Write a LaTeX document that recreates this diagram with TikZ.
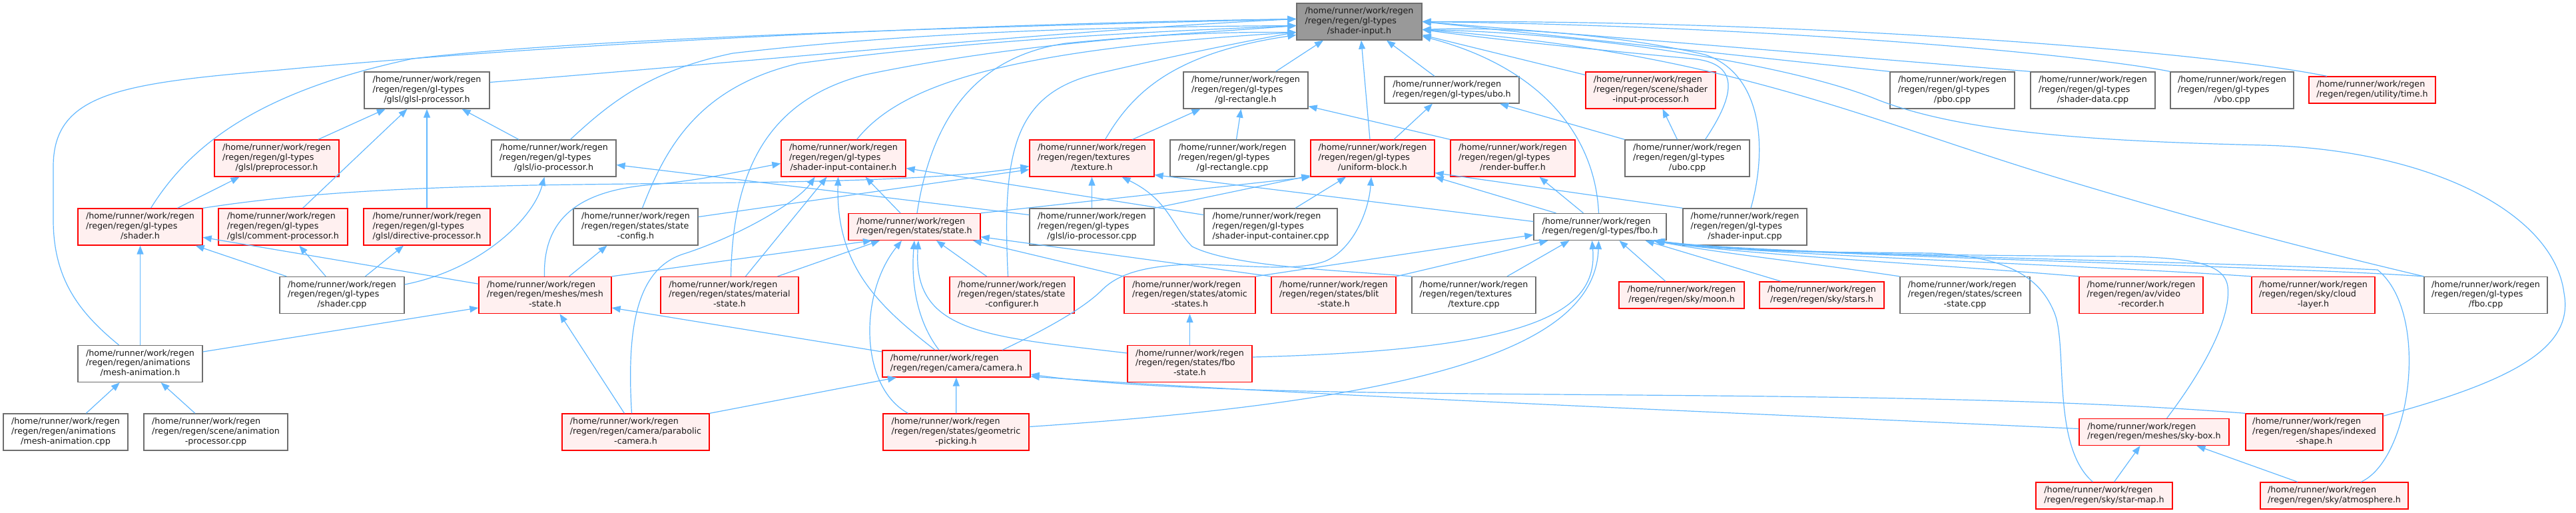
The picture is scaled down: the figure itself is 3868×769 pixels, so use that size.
\documentclass[tikz,border=0pt]{standalone}
\usepackage{fontspec}
\newfontfamily\dxfont{DejaVu Sans}
\usetikzlibrary{arrows.meta}
\definecolor{dxblue}{RGB}{99,184,255}
\definecolor{dxred}{RGB}{255,0,0}
\definecolor{dxpink}{RGB}{255,240,240}
\definecolor{dxgray}{RGB}{110,110,110}
\definecolor{dxroot}{RGB}{153,153,153}
\definecolor{dxtext}{RGB}{26,26,26}
\newcommand{\dxhome}{/home/runner/work/regen}
\newcommand{\dxthree}[3]{\begin{tabular}{@{}l@{}}#1\\#2\\\multicolumn{1}{@{}c@{}}{#3}\end{tabular}}
\newcommand{\dxtwo}[2]{\begin{tabular}{@{}l@{}}#1\\\multicolumn{1}{@{}c@{}}{#2}\end{tabular}}
\tikzset{
  dxbase/.style={draw, rectangle, line width=1.3pt, inner sep=0pt, text=dxtext,
                 font=\dxfont\fontsize{12.7}{14.7}\selectfont},
  filenode/.style={dxbase, fill=white, draw=dxgray},
  truncnode/.style={dxbase, fill=dxpink, draw=dxred},
  rootnode/.style={dxbase, fill=dxroot, draw=dxgray},
  threerow/.style={minimum height=55pt},
  tworow/.style={minimum height=40pt},
  incl/.style={draw=dxblue, line width=1.2pt, -{Triangle[length=13pt,width=10pt]}},
}

\begin{document}
\begin{tikzpicture}[x=1pt,y=-1pt]
\useasboundingbox (0,0) rectangle (3868,769);

% ================= row 0: the header itself =================
\node[rootnode, threerow, minimum width=188pt] (root) at (2041,32.5)
  {\dxthree{\dxhome}{/regen/regen/gl-types}{/shader-input.h}};

% ================= row 1 =================
\node[filenode, threerow, minimum width=188pt] (glslproc) at (641,135.5)
  {\dxthree{\dxhome}{/regen/regen/gl-types}{/glsl/glsl-processor.h}};
\node[filenode, threerow, minimum width=187pt] (glrecth) at (1870.5,135.5)
  {\dxthree{\dxhome}{/regen/regen/gl-types}{/gl-rectangle.h}};
\node[filenode, tworow, minimum width=202pt] (uboh) at (2180,135)
  {\dxtwo{\dxhome}{/regen/regen/gl-types/ubo.h}};
\node[truncnode, threerow, minimum width=195pt] (sipproc) at (2478.5,135.5)
  {\dxthree{\dxhome}{/regen/regen/scene/shader}{-input-processor.h}};
\node[filenode, threerow, minimum width=187pt] (pbocpp) at (2931.5,135.5)
  {\dxthree{\dxhome}{/regen/regen/gl-types}{/pbo.cpp}};
\node[filenode, threerow, minimum width=187pt] (shdatacpp) at (3142.5,135.5)
  {\dxthree{\dxhome}{/regen/regen/gl-types}{/shader-data.cpp}};
\node[filenode, threerow, minimum width=185pt] (vbocpp) at (3351.5,135.5)
  {\dxthree{\dxhome}{/regen/regen/gl-types}{/vbo.cpp}};
\node[truncnode, tworow, minimum width=190pt] (timeh) at (3562,135)
  {\dxtwo{\dxhome}{/regen/regen/utility/time.h}};

% ================= row 2 =================
\node[truncnode, threerow, minimum width=187pt] (preproc) at (415.5,237.5)
  {\dxthree{\dxhome}{/regen/regen/gl-types}{/glsl/preprocessor.h}};
\node[filenode, threerow, minimum width=187pt] (ioproch) at (831.5,237.5)
  {\dxthree{\dxhome}{/regen/regen/gl-types}{/glsl/io-processor.h}};
\node[truncnode, threerow, minimum width=187pt] (sicont) at (1266.5,237.5)
  {\dxthree{\dxhome}{/regen/regen/gl-types}{/shader-input-container.h}};
\node[truncnode, threerow, minimum width=187pt] (textureh) at (1639.5,237.5)
  {\dxthree{\dxhome}{/regen/regen/textures}{/texture.h}};
\node[filenode, threerow, minimum width=187pt] (glrectcpp) at (1850.5,237.5)
  {\dxthree{\dxhome}{/regen/regen/gl-types}{/gl-rectangle.cpp}};
\node[truncnode, threerow, minimum width=186pt] (ublock) at (2061,237.5)
  {\dxthree{\dxhome}{/regen/regen/gl-types}{/uniform-block.h}};
\node[truncnode, threerow, minimum width=187pt] (renderbuf) at (2271.5,237.5)
  {\dxthree{\dxhome}{/regen/regen/gl-types}{/render-buffer.h}};
\node[filenode, threerow, minimum width=187pt] (ubocpp) at (2533.5,237.5)
  {\dxthree{\dxhome}{/regen/regen/gl-types}{/ubo.cpp}};

% ================= row 3 =================
\node[truncnode, threerow, minimum width=187pt] (shaderh) at (210.5,340.5)
  {\dxthree{\dxhome}{/regen/regen/gl-types}{/shader.h}};
\node[truncnode, threerow, minimum width=194pt] (commentp) at (425,340.5)
  {\dxthree{\dxhome}{/regen/regen/gl-types}{/glsl/comment-processor.h}};
\node[truncnode, threerow, minimum width=190pt] (directivep) at (641,340.5)
  {\dxthree{\dxhome}{/regen/regen/gl-types}{/glsl/directive-processor.h}};
\node[filenode, threerow, minimum width=187pt] (stateconfig) at (954.5,340.5)
  {\dxthree{\dxhome}{/regen/regen/states/state}{-config.h}};
\node[truncnode, tworow, minimum width=198pt] (stateh) at (1373,340.5)
  {\dxtwo{\dxhome}{/regen/regen/states/state.h}};
\node[filenode, threerow, minimum width=187pt] (ioproccpp) at (1639.5,340.5)
  {\dxthree{\dxhome}{/regen/regen/gl-types}{/glsl/io-processor.cpp}};
\node[filenode, threerow, minimum width=200pt] (sicontcpp) at (1908,340.5)
  {\dxthree{\dxhome}{/regen/regen/gl-types}{/shader-input-container.cpp}};
\node[filenode, tworow, minimum width=199pt] (fboh) at (2402.5,340.5)
  {\dxtwo{\dxhome}{/regen/regen/gl-types/fbo.h}};
\node[filenode, threerow, minimum width=186pt] (sicpp) at (2620,340.5)
  {\dxthree{\dxhome}{/regen/regen/gl-types}{/shader-input.cpp}};

% ================= row 4 =================
\node[filenode, threerow, minimum width=187pt] (shadercpp) at (513.5,443)
  {\dxthree{\dxhome}{/regen/regen/gl-types}{/shader.cpp}};
\node[truncnode, threerow, minimum width=199pt] (meshstate) at (818.5,443)
  {\dxthree{\dxhome}{/regen/regen/meshes/mesh}{-state.h}};
\node[truncnode, threerow, minimum width=207pt] (materialst) at (1095.5,443)
  {\dxthree{\dxhome}{/regen/regen/states/material}{-state.h}};
\node[truncnode, threerow, minimum width=187pt] (stateconfigurer) at (1519.5,443)
  {\dxthree{\dxhome}{/regen/regen/states/state}{-configurer.h}};
\node[truncnode, threerow, minimum width=197pt] (atomic) at (1786.5,443)
  {\dxthree{\dxhome}{/regen/regen/states/atomic}{-states.h}};
\node[truncnode, threerow, minimum width=187pt] (blit) at (2002.5,443)
  {\dxthree{\dxhome}{/regen/regen/states/blit}{-state.h}};
\node[filenode, threerow, minimum width=186pt] (texturecpp) at (2213,443)
  {\dxthree{\dxhome}{/regen/regen/textures}{/texture.cpp}};
\node[truncnode, tworow, minimum width=188pt] (moon) at (2525,443)
  {\dxtwo{\dxhome}{/regen/regen/sky/moon.h}};
\node[truncnode, tworow, minimum width=187pt] (stars) at (2735.5,443)
  {\dxtwo{\dxhome}{/regen/regen/sky/stars.h}};
\node[filenode, threerow, minimum width=195pt] (screenstate) at (2950.5,443)
  {\dxthree{\dxhome}{/regen/regen/states/screen}{-state.cpp}};
\node[truncnode, threerow, minimum width=186pt] (videorec) at (3215,443)
  {\dxthree{\dxhome}{/regen/regen/av/video}{-recorder.h}};
\node[truncnode, threerow, minimum width=185pt] (cloud) at (3473.5,443)
  {\dxthree{\dxhome}{/regen/regen/sky/cloud}{-layer.h}};
\node[filenode, threerow, minimum width=185pt] (fbocpp) at (3732.5,443)
  {\dxthree{\dxhome}{/regen/regen/gl-types}{/fbo.cpp}};

% ================= row 5 =================
\node[filenode, threerow, minimum width=187pt] (meshanimh) at (210.5,546)
  {\dxthree{\dxhome}{/regen/regen/animations}{/mesh-animation.h}};
\node[truncnode, tworow, minimum width=222pt] (camerah) at (1436,546)
  {\dxtwo{\dxhome}{/regen/regen/camera/camera.h}};
\node[truncnode, threerow, minimum width=187pt] (fbostate) at (1786.5,546)
  {\dxthree{\dxhome}{/regen/regen/states/fbo}{-state.h}};

% ================= row 6 =================
\node[filenode, threerow, minimum width=187pt] (meshanimcpp) at (98.5,648.5)
  {\dxthree{\dxhome}{/regen/regen/animations}{/mesh-animation.cpp}};
\node[filenode, threerow, minimum width=216pt] (animproc) at (324,648.5)
  {\dxthree{\dxhome}{/regen/regen/scene/animation}{-processor.cpp}};
\node[truncnode, threerow, minimum width=221pt] (parabolic) at (954.5,648.5)
  {\dxthree{\dxhome}{/regen/regen/camera/parabolic}{-camera.h}};
\node[truncnode, threerow, minimum width=219pt] (geompick) at (1435.5,648.5)
  {\dxthree{\dxhome}{/regen/regen/states/geometric}{-picking.h}};
\node[truncnode, tworow, minimum width=225pt] (skybox) at (3234.5,648.5)
  {\dxtwo{\dxhome}{/regen/regen/meshes/sky-box.h}};
\node[truncnode, threerow, minimum width=206pt] (indexed) at (3475,648.5)
  {\dxthree{\dxhome}{/regen/regen/shapes/indexed}{-shape.h}};

% ================= row 7 =================
\node[truncnode, tworow, minimum width=205pt] (starmap) at (3159.5,744)
  {\dxtwo{\dxhome}{/regen/regen/sky/star-map.h}};
\node[truncnode, tworow, minimum width=222pt] (atmosphere) at (3505,744)
  {\dxtwo{\dxhome}{/regen/regen/sky/atmosphere.h}};

% ================= includes of shader-input.h (left side) =================
\draw[incl] ([xshift=-32pt]meshanimh.north) .. controls (120,470) and (80,420) .. (80,330)
  -- (80,250) .. controls (80,140) and (180,125) .. (420,105)
  .. controls (900,60) and (1500,35) .. ([yshift=4pt]root.west);
\draw[incl] ([xshift=16pt]shaderh.north) .. controls (290,210) and (400,135) .. (620,88)
  .. controls (900,55) and (1500,40) .. ([yshift=4pt]root.west);
\draw[incl] ([yshift=12pt]glslproc.east) .. controls (1100,95) and (1600,45) .. ([yshift=4pt]root.west);
\draw[incl] ([xshift=25pt]ioproch.north) .. controls (920,150) and (980,105) .. (1100,80)
  .. controls (1400,45) and (1700,40) .. ([yshift=-6pt]root.west);
\draw[incl] ([xshift=10pt]stateconfig.north) .. controls (1000,220) and (1050,130) .. (1200,95)
  .. controls (1500,55) and (1800,45) .. ([yshift=-6pt]root.west);
\draw[incl] ([xshift=2pt]materialst.north) .. controls (1100,260) and (1150,150) .. (1300,112)
  .. controls (1550,60) and (1800,50) .. ([yshift=-6pt]root.west);
\draw[incl] ([xshift=20pt]sicont.north) .. controls (1350,130) and (1500,75) .. ([yshift=-16pt]root.west);
\draw[incl] ([xshift=4pt]stateh.north) .. controls (1400,170) and (1470,85) .. (1600,65)
  .. controls (1750,50) and (1850,48) .. ([yshift=-16pt]root.west);
\draw[incl] ([xshift=-6pt]stateconfigurer.north) .. controls (1505,230) and (1520,140) .. (1650,110)
  .. controls (1780,80) and (1880,60) .. ([yshift=-16pt]root.west);
\draw[incl] ([xshift=20pt]textureh.north) .. controls (1700,140) and (1760,80) .. ([yshift=-20pt]root.west);
\draw[incl] ([xshift=45pt]glrecth.north) -- ([xshift=-54pt]root.south);
\draw[incl] ([xshift=-4pt]ublock.north) -- ([xshift=3pt]root.south);
\draw[incl] ([xshift=-26pt]uboh.north) -- ([xshift=41pt]root.south);

% ================= includes of shader-input.h (right side) =================
\draw[incl] ([yshift=23pt]sipproc.west) -- ([yshift=-20pt]root.east);
\draw[incl] ([xshift=-2pt]fboh.north) .. controls (2395,200) and (2310,100) .. ([yshift=-22pt]root.east);
\draw[incl] ([xshift=27pt]ubocpp.north) .. controls (2600,150) and (2620,95) .. (2540,88)
  .. controls (2400,75) and (2250,60) .. ([yshift=-12pt]root.east);
\draw[incl] ([xshift=9pt]sicpp.north) .. controls (2655,220) and (2645,110) .. (2560,82)
  .. controls (2420,50) and (2250,40) .. ([yshift=-12pt]root.east);
\draw[incl] (pbocpp.north west) -- (root.east);
\draw[incl] (shdatacpp.north west) -- (root.east);
\draw[incl] (vbocpp.north west) .. controls (3150,85) and (2700,40) .. (root.east);
\draw[incl] ([xshift=-68pt]timeh.north) .. controls (3300,75) and (2700,30) .. (root.east);
\draw[incl] ([yshift=-4pt]indexed.north east) .. controls (3780,570) and (3865,520) .. (3850,440)
  .. controls (3835,320) and (3650,225) .. (3400,218)
  .. controls (3150,212) and (2950,200) .. (2820,150)
  .. controls (2700,100) and (2400,50) .. ([yshift=-12pt]root.east);
\draw[incl] (fbocpp.north west) .. controls (3450,370) and (3300,330) .. (3100,270)
  .. controls (2800,180) and (2600,80) .. ([yshift=-12pt]root.east);

% ================= glsl processors =================
\draw[incl] (preproc) -- (glslproc);
\draw[incl] (commentp) -- (glslproc);
\draw[incl] (directivep) -- (glslproc);
\draw[incl] (ioproch) -- (glslproc);
\draw[incl] (shaderh) -- (preproc);
\draw[incl] (shadercpp) -- (shaderh);
\draw[incl] (shadercpp) -- (commentp);
\draw[incl] (shadercpp) -- (directivep);
\draw[incl] ([yshift=16pt]shadercpp.east) .. controls (720,405) and (800,330) .. ([xshift=-14pt]ioproch.south);
\draw[incl] ([yshift=18pt]ioproccpp.west) -- ([yshift=-10pt]ioproch.east);

% ================= shader / mesh side =================
\draw[incl] (meshanimh) -- (shaderh);
\draw[incl] (meshstate) -- (shaderh);
\draw[incl] (meshanimcpp) -- (meshanimh);
\draw[incl] (animproc) -- (meshanimh);
\draw[incl] ([yshift=18pt]meshanimh.east) -- ([yshift=-19pt]meshstate.west);
\draw[incl] (shaderh.north east) .. controls (450,290) and (600,282) .. (800,278)
  .. controls (1100,273) and (1380,276) .. ([yshift=-12pt]textureh.west);
\draw[incl] ([xshift=36pt]meshstate.north) -- ([xshift=-43pt]stateconfig.south);
\draw[incl] (meshstate.north east) -- ([xshift=-64pt]stateh.south);
\draw[incl] ([xshift=-1pt]meshstate.north) .. controls (815,320) and (880,285) .. (980,277)
  .. controls (1060,270) and (1120,255) .. ([yshift=-8pt]sicont.west);
\draw[incl] ([yshift=15pt]stateconfig.east) -- ([yshift=-17pt]textureh.west);

% ================= shader-input-container.h =================
\draw[incl] ([xshift=24pt]materialst.north) -- ([xshift=-25pt]sicont.south);
\draw[incl] ([xshift=-6pt]parabolic.north) .. controls (940,480) and (960,400) .. (1030,380)
  .. controls (1120,350) and (1200,300) .. ([xshift=-43pt]sicont.south);
\draw[incl] ([xshift=-32pt]camerah.north) .. controls (1320,460) and (1255,400) .. ([xshift=-8pt]sicont.south);
\draw[incl] ([xshift=-21pt]stateh.north) -- ([xshift=33pt]sicont.south);
\draw[incl] ([yshift=18pt]sicontcpp.west) -- ([yshift=-15pt]sicont.east);

% ================= state.h =================
\draw[incl] ([xshift=72pt]materialst.north) -- ([xshift=-52pt]stateh.south);
\draw[incl] ([xshift=-72pt]geompick.north) .. controls (1290,580) and (1290,440) .. ([xshift=-19pt]stateh.south);
\draw[incl] ([xshift=-26pt]camerah.north) .. controls (1375,480) and (1368,420) .. (stateh.south);
\draw[incl] ([yshift=16pt]fbostate.west) .. controls (1480,505) and (1370,500) .. ([xshift=6pt]stateh.south);
\draw[incl] ([xshift=-38pt]stateconfigurer.north) -- ([xshift=33pt]stateh.south);
\draw[incl] (atomic.north west) -- ([xshift=88pt]stateh.south);
\draw[incl] (blit.north west) -- ([yshift=-15pt]stateh.east);

% ================= camera.h / mesh-state.h =================
\draw[incl] ([yshift=18pt]camerah.west) -- ([yshift=-19pt]meshstate.east);
\draw[incl] ([xshift=-17pt]parabolic.north) -- ([xshift=22pt]meshstate.south);
\draw[incl] (parabolic.north east) -- ([xshift=-90pt]camerah.south);
\draw[incl] (geompick) -- (camerah);
\draw[incl] (indexed.north west) .. controls (2800,575) and (1900,610) .. ([yshift=-16pt]camerah.east);
\draw[incl] ([yshift=5pt]skybox.west) .. controls (2500,615) and (1900,590) .. ([yshift=-19pt]camerah.east);
\draw[incl] (fbostate) -- (atomic);

% ================= texture.h / gl-rectangle.h =================
\draw[incl] (ioproccpp) -- (textureh);
\draw[incl] (texturecpp.north west) .. controls (2000,405) and (1850,400) .. (1790,370)
  .. controls (1760,340) and (1755,300) .. ([xshift=45pt]textureh.south);
\draw[incl] ([yshift=8pt]fboh.west) -- ([yshift=-25pt]textureh.east);
\draw[incl] ([xshift=61pt]textureh.north) -- ([xshift=-68pt]glrecth.south);
\draw[incl] ([xshift=6pt]glrectcpp.north) -- ([xshift=-7pt]glrecth.south);
\draw[incl] (renderbuf.north west) -- ([yshift=-24pt]glrecth.east);

% ================= uniform-block.h / ubo.h =================
\draw[incl] ([xshift=32pt]ublock.north) -- ([xshift=-29pt]uboh.south);
\draw[incl] (ubocpp.north west) -- ([xshift=72pt]uboh.south);
\draw[incl] ([xshift=-15pt]ubocpp.north) -- ([xshift=18pt]sipproc.south);
\draw[incl] (stateh.north east) -- (ublock.south west);
\draw[incl] (ioproccpp.north east) -- ([yshift=2pt]ublock.south west);
\draw[incl] ([xshift=37pt]sicontcpp.north) -- ([xshift=-40pt]ublock.south);
\draw[incl] ([xshift=69pt]camerah.north) .. controls (1580,490) and (1630,460) .. (1655,435)
  .. controls (1680,410) and (1720,400) .. (1780,397)
  .. controls (1850,395) and (1940,410) .. (1990,392)
  .. controls (2030,375) and (2055,320) .. ([xshift=-2pt]ublock.south);
\draw[incl] ([xshift=-66pt]fboh.north) -- (ublock.south east);
\draw[incl] (sicpp.north west) -- ([yshift=-22pt]ublock.east);
\draw[incl] ([xshift=-25pt]fboh.north) -- ([xshift=40pt]renderbuf.south);

% ================= fbo.h =================
\draw[incl] (atomic.north east) -- ([yshift=-12pt]fboh.west);
\draw[incl] (blit.north east) -- ([xshift=-78pt]fboh.south);
\draw[incl] ([xshift=50pt]texturecpp.north) -- ([xshift=-46pt]fboh.south);
\draw[incl] ([yshift=10pt]fbostate.east) .. controls (2300,525) and (2400,470) .. ([xshift=-12pt]fboh.south);
\draw[incl] ([yshift=8pt]geompick.east) .. controls (2150,600) and (2395,520) .. ([xshift=-2pt]fboh.south);
\draw[incl] ([xshift=-24pt]moon.north) -- ([xshift=29pt]fboh.south);
\draw[incl] ([xshift=-61pt]stars.north) -- ([xshift=-32pt]fboh.south east);
\draw[incl] (screenstate.north west) .. controls (2700,392) and (2580,380) .. ([xshift=-20pt]fboh.south east);
\draw[incl] (videorec.north west) .. controls (2900,396) and (2600,381) .. ([xshift=-18pt]fboh.south east);
\draw[incl] (cloud.north west) .. controls (3100,396) and (2620,382) .. ([xshift=-16pt]fboh.south east);
\draw[incl] (fbocpp.north west) .. controls (3400,398) and (2640,383) .. ([xshift=-16pt]fboh.south east);
\draw[incl] ([xshift=19pt]skybox.north) .. controls (3320,540) and (3350,470) .. (3345,430)
  .. controls (3340,395) and (3290,388) .. (3200,385)
  .. controls (2900,383) and (2600,380) .. ([xshift=-18pt]fboh.south east);
\draw[incl] ([xshift=-17pt]starmap.north) .. controls (3080,670) and (3105,520) .. (3085,470)
  .. controls (3065,420) and (3020,385) .. (2900,380)
  .. controls (2750,378) and (2600,379) .. ([xshift=-20pt]fboh.south east);
\draw[incl] ([xshift=40pt]atmosphere.north) .. controls (3620,690) and (3650,470) .. (3570,405)
  .. controls (3300,392) and (2640,382) .. ([xshift=-16pt]fboh.south east);

% ================= sky-box.h =================
\draw[incl] ([xshift=15pt]starmap.north) -- ([xshift=-21pt]skybox.south);
\draw[incl] ([xshift=-55pt]atmosphere.north) -- ([xshift=64pt]skybox.south);
\end{tikzpicture}
\end{document}
